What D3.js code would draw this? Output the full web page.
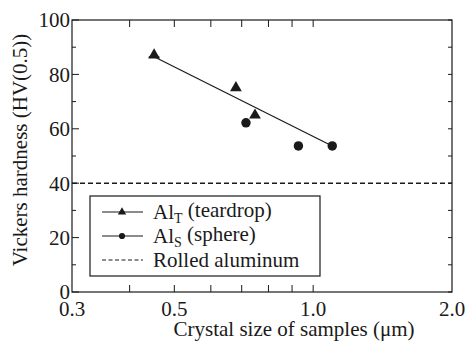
<!DOCTYPE html>
<html><head><meta charset="utf-8">
<script src="https://cdn.jsdelivr.net/npm/d3@7"></script>
<style>
  svg text, svg tspan { font-family: "Liberation Serif", "Times New Roman", serif !important; }
</style>
</head><body style="margin:0">
<script>
// hardness vs crystal size
var teardropSize = [0.452, 0.680, 0.748];
var teardropHV = [87.1, 75.1, 65.0];
var teardropErr = [0.012, 0.010, 0.010];
var sphereSize = [0.715, 0.929, 1.10];
var sphereHV = [62.2, 53.7, 53.7];
var fitSize = [0.452, 1.10];
var fitHV = [86.5, 53.7];
var rolledHV = 40;

var xTickLabels = [0.3, 0.5, 1.0, 2.0];
var xMinorTicks = [0.4, 0.5, 0.6, 0.7, 0.8, 0.9, 1.0];
var yTickLabels = [0, 20, 40, 60, 80, 100];
var yMinorTicks = [10, 30, 50, 70, 90];

var legendItems = [
  {name: "Al", sub: "T", rest: " (teardrop)", type: "triangle"},
  {name: "Al", sub: "S", rest: " (sphere)", type: "circle"},
  {name: "Rolled aluminum", sub: "", rest: "", type: "dash"}
];

var W = 470, H = 343;
var margin = {top: 20, right: 18, bottom: 51, left: 72};
var plotW = W - margin.left - margin.right;
var plotH = H - margin.top - margin.bottom;
var ink = "#1a1a1a";
var serif = "Liberation Serif";

var svg = d3.select("body").append("svg")
  .attr("width", W)
  .attr("height", H)
  .attr("font-family", serif);

var g = svg.append("g")
  .attr("transform", "translate(" + margin.left + "," + margin.top + ")");

var x = d3.scaleLog().domain([0.3, 2.0]).range([0, plotW]);
var y = d3.scaleLinear().domain([0, 100]).range([plotH, 0]);

// inward ticks on all four sides
function tickLines(sel, data, x1, y1, x2, y2) {
  sel.selectAll(null).data(data).enter().append("line")
    .attr("x1", x1).attr("y1", y1).attr("x2", x2).attr("y2", y2)
    .attr("stroke", ink).attr("stroke-width", 1);
}
var ticks = g.append("g");
tickLines(ticks, xMinorTicks, function(d) { return x(d); }, plotH, function(d) { return x(d); }, plotH - 7);
tickLines(ticks, xMinorTicks, function(d) { return x(d); }, 0, function(d) { return x(d); }, 7);
tickLines(ticks, yTickLabels, 0, function(d) { return y(d); }, 7, function(d) { return y(d); });
tickLines(ticks, yMinorTicks, 0, function(d) { return y(d); }, 4, function(d) { return y(d); });
tickLines(ticks, yTickLabels.concat(yMinorTicks), plotW, function(d) { return y(d); }, plotW - 4, function(d) { return y(d); });

g.append("rect")
  .attr("width", plotW).attr("height", plotH)
  .attr("fill", "none").attr("stroke", ink).attr("stroke-width", 1.2);

// tick labels
g.selectAll("text.xlab").data(xTickLabels).enter().append("text")
  .attr("class", "xlab")
  .attr("x", function(d) { return x(d); })
  .attr("y", plotH + 24)
  .attr("text-anchor", "middle")
  .attr("font-family", serif)
  .attr("font-size", 21)
  .attr("fill", ink)
  .text(function(d) { return d.toFixed(1); });

g.selectAll("text.ylab").data(yTickLabels).enter().append("text")
  .attr("class", "ylab")
  .attr("x", -2)
  .attr("y", function(d) { return y(d); })
  .attr("dy", "0.35em")
  .attr("text-anchor", "end")
  .attr("font-family", serif)
  .attr("font-size", 21)
  .attr("fill", ink)
  .text(function(d) { return d; });

// axis titles
g.append("text")
  .attr("x", 222)
  .attr("y", plotH + 44)
  .attr("text-anchor", "middle")
  .attr("font-family", serif)
  .attr("font-size", 21)
  .attr("fill", ink)
  .text("Crystal size of samples (\u03bcm)");

g.append("text")
  .attr("transform", "translate(" + (-45) + "," + (plotH / 2 - 6) + ") rotate(-90)")
  .attr("text-anchor", "middle")
  .attr("font-family", serif)
  .attr("font-size", 21)
  .attr("fill", ink)
  .text("Vickers hardness (HV(0.5))");

// rolled aluminum reference
g.append("line")
  .attr("x1", 0).attr("x2", plotW)
  .attr("y1", y(rolledHV)).attr("y2", y(rolledHV))
  .attr("stroke", ink).attr("stroke-width", 1.5)
  .attr("stroke-dasharray", "5,3");

// fitted trend
var fit = d3.line()
  .x(function(d) { return x(d[0]); })
  .y(function(d) { return y(d[1]); });
g.append("path")
  .datum(d3.zip(fitSize, fitHV))
  .attr("d", fit)
  .attr("fill", "none").attr("stroke", ink).attr("stroke-width", 1.2);

var tri = d3.symbol().type(d3.symbolTriangle).size(60);
var dot = d3.symbol().type(d3.symbolCircle).size(70);

// teardrop points with horizontal error bars
var tears = d3.range(teardropSize.length).map(function(i) {
  return {s: teardropSize[i], hv: teardropHV[i], e: teardropErr[i]};
});
g.selectAll("line.err").data(tears).enter().append("line")
  .attr("class", "err")
  .attr("x1", function(d) { return x(d.s - d.e); })
  .attr("x2", function(d) { return x(d.s + d.e); })
  .attr("y1", function(d) { return y(d.hv) + 2; })
  .attr("y2", function(d) { return y(d.hv) + 2; })
  .attr("stroke", ink).attr("stroke-width", 1.5);
g.selectAll("path.tri").data(tears).enter().append("path")
  .attr("class", "tri")
  .attr("d", tri)
  .attr("transform", function(d) { return "translate(" + x(d.s) + "," + y(d.hv) + ")"; })
  .attr("fill", ink);

g.selectAll("path.dot").data(d3.zip(sphereSize, sphereHV)).enter().append("path")
  .attr("class", "dot")
  .attr("d", dot)
  .attr("transform", function(d) { return "translate(" + x(d[0]) + "," + y(d[1]) + ")"; })
  .attr("fill", ink);

// legend
var legend = g.append("g").attr("transform", "translate(18,176)");
legend.append("rect")
  .attr("width", 230).attr("height", 80)
  .attr("fill", "#fff").attr("stroke", ink).attr("stroke-width", 1.2);

var entries = legend.selectAll("g.entry").data(legendItems).enter().append("g")
  .attr("class", "entry")
  .attr("transform", function(d, i) { return "translate(0," + (16 + i * 24) + ")"; });

entries.append("line")
  .attr("x1", 12).attr("x2", 53).attr("y1", 0).attr("y2", 0)
  .attr("stroke", ink).attr("stroke-width", 1.2)
  .attr("stroke-dasharray", function(d) { return d.type === "dash" ? "4,2.5" : null; });

entries.filter(function(d) { return d.type !== "dash"; }).append("path")
  .attr("d", function(d) {
    return d.type === "triangle"
      ? d3.symbol().type(d3.symbolTriangle).size(30)()
      : d3.symbol().type(d3.symbolCircle).size(30)();
  })
  .attr("transform", "translate(32,0)")
  .attr("fill", ink);

var labels = entries.append("text")
  .attr("x", 63)
  .attr("dy", "0.33em")
  .attr("font-family", serif)
  .attr("font-size", 21)
  .attr("fill", ink);
labels.append("tspan").text(function(d) { return d.name; });
labels.append("tspan")
  .attr("dy", "0.3em")
  .attr("font-size", 14)
  .text(function(d) { return d.sub; });
labels.append("tspan")
  .attr("dy", function(d) { return d.sub ? "-0.3em" : null; })
  .text(function(d) { return d.rest; });
</script>
</body>
</html>
